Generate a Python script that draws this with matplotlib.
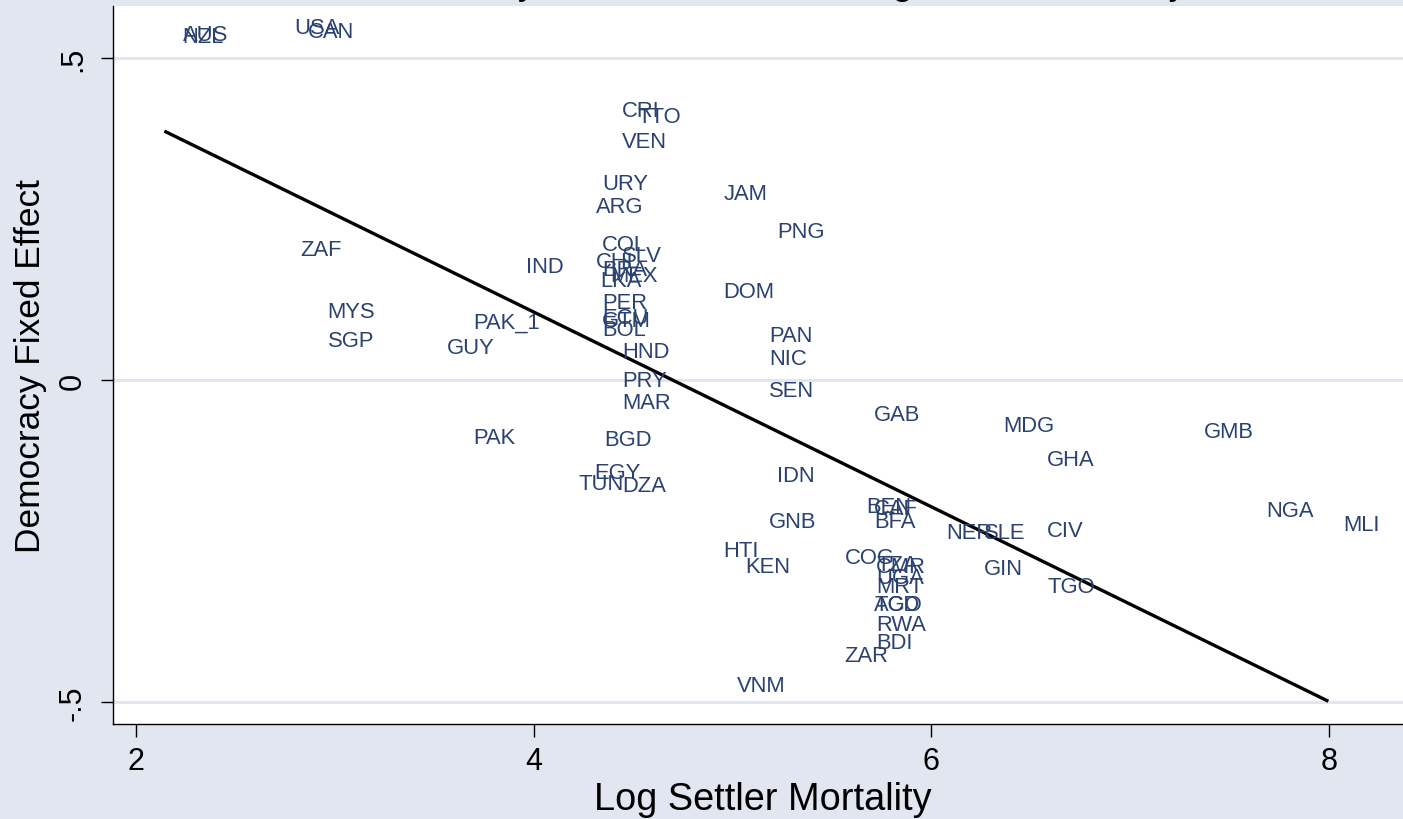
import numpy as np
import matplotlib
matplotlib.use("Agg")
import matplotlib.pyplot as plt

plt.rcParams['font.family'] = ['Liberation Sans', 'DejaVu Sans']

# country codes, log settler mortality, democracy fixed effect
countries = ['AUS', 'NZL', 'USA', 'CAN', 'CRI', 'TTO', 'VEN', 'URY', 'ARG', 'JAM',
             'PNG', 'ZAF', 'IND', 'COL', 'SLV', 'CHL', 'BRA', 'MEX', 'LKA', 'PER',
             'ECU', 'GTM', 'BOL', 'HND', 'PRY', 'MAR', 'DOM', 'MYS', 'SGP', 'PAK_1',
             'GUY', 'PAN', 'NIC', 'SEN', 'PAK', 'BGD', 'EGY', 'TUN', 'DZA', 'IDN',
             'GAB', 'MDG', 'GMB', 'GHA', 'BEN', 'CAF', 'BFA', 'NER', 'SLE', 'COG',
             'CMR', 'TZA', 'UGA', 'MRT', 'TCD', 'AGO', 'RWA', 'BDI', 'ZAR', 'GIN',
             'CIV', 'TGO', 'HTI', 'KEN', 'VNM', 'GNB', 'NGA', 'MLI']
logmort = [2.15, 2.15, 2.71, 2.78, 4.36, 4.44, 4.36, 4.26, 4.23, 4.87,
           5.14, 2.74, 3.88, 4.26, 4.36, 4.23, 4.26, 4.30, 4.25, 4.26,
           4.26, 4.26, 4.26, 4.36, 4.36, 4.36, 4.87, 2.88, 2.88, 3.61,
           3.48, 5.10, 5.10, 5.10, 3.61, 4.27, 4.22, 4.14, 4.36, 5.14,
           5.63, 6.28, 7.29, 6.50, 5.59, 5.63, 5.63, 5.99, 6.18, 5.48,
           5.64, 5.64, 5.64, 5.64, 5.63, 5.63, 5.64, 5.64, 5.48, 6.18,
           6.50, 6.50, 4.87, 4.98, 4.94, 5.10, 7.60, 7.99]
dem_fe = [0.537, 0.533, 0.547, 0.542, 0.418, 0.410, 0.370, 0.306, 0.270, 0.290,
          0.231, 0.203, 0.177, 0.210, 0.194, 0.185, 0.172, 0.162, 0.154, 0.120,
          0.097, 0.093, 0.079, 0.045, 0.000, -0.034, 0.137, 0.107, 0.061, 0.090,
          0.050, 0.070, 0.033, -0.016, -0.089, -0.092, -0.144, -0.161, -0.163, -0.148,
          -0.054, -0.071, -0.079, -0.124, -0.197, -0.200, -0.219, -0.236, -0.236, -0.276,
          -0.289, -0.287, -0.306, -0.321, -0.348, -0.348, -0.379, -0.408, -0.427, -0.292,
          -0.234, -0.320, -0.264, -0.290, -0.474, -0.220, -0.203, -0.224]

title = 'Democracy Fixed Effects and Log Settler Mortality'
xticks = [2, 4, 6, 8]
yticks = [-0.5, 0, 0.5]
ytick_labels = ['-.5', '0', '.5']

bg = '#E1E6F0'
navy = '#2B4271'

fig = plt.figure(figsize=(14.03, 8.2), dpi=100, facecolor=bg)
ax = fig.add_axes([113 / 1403, 1 - 725 / 820, 1290 / 1403, 718 / 820])
ax.set_facecolor('white')

x = np.array(logmort)
y = np.array(dem_fe)

# grid lines
for yt in yticks:
    ax.axhline(yt, color=bg, lw=2.2, zorder=0)

# labels as markers (label to the right of each point)
for c, xi, yi in zip(countries, x, y):
    ax.annotate(c, (xi, yi), xytext=(12, 0), textcoords='offset points',
                ha='left', va='center', fontsize=15.8, color=navy)

# linear fit
b, a = np.polyfit(x, y, 1)
xs = np.array([x.min(), x.max()])
ax.plot(xs, a + b * xs, color='black', lw=2.4)

ax.set_xlim(1.884, 8.373)
ax.set_ylim(-0.534, 0.581)
ax.set_xticks(xticks)
ax.set_yticks(yticks)
ax.set_yticklabels(ytick_labels, rotation=90, va='center')
ax.tick_params(axis='both', length=9, width=1, labelsize=22, pad=7)
ax.tick_params(axis='y', pad=9)

for s in ['top', 'right']:
    ax.spines[s].set_visible(False)
for s in ['left', 'bottom']:
    ax.spines[s].set_linewidth(1)

ax.set_xlabel('Log Settler Mortality', fontsize=27.3)
ax.set_ylabel('Democracy Fixed Effect', fontsize=25.4)
ax.xaxis.set_label_coords(0.504, -0.1045)
ax.xaxis.label.set_va('center')
ax.yaxis.set_label_coords(-0.064, 0.5)
ax.yaxis.label.set_va('center')

fig.text(766 / 1403, 1 + 6 / 820, title, ha='center', va='baseline', fontsize=27.3)

fig.savefig('out.png', dpi=100, facecolor=bg)
